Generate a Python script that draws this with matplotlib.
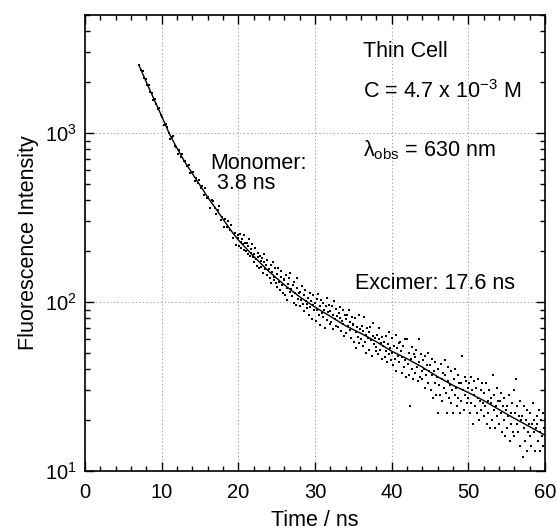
"""Fluorescence decay of the thin cell, log intensity vs time."""
import matplotlib
matplotlib.use("Agg")
import matplotlib.pyplot as plt
from matplotlib.ticker import LogLocator, MultipleLocator

plt.rcParams["font.family"] = ["Liberation Sans", "DejaVu Sans"]
plt.rcParams["mathtext.fontset"] = "custom"
plt.rcParams["mathtext.rm"] = "Liberation Sans"
plt.rcParams["mathtext.it"] = "Liberation Sans:italic"
plt.rcParams["mathtext.bf"] = "Liberation Sans:bold"

# measured decay, early part (coarse channels)
early_time = [
    7.1, 7.3, 7.5, 7.7, 7.9, 8.1, 8.3, 8.5, 8.7, 8.9,
    9.1, 9.3, 9.5, 9.7, 9.9, 10.1, 10.3, 10.5, 10.7, 10.9,
    11.1, 11.3, 11.5, 11.7, 11.9, 12.1, 12.3, 12.5, 12.7, 12.9,
    13.1, 13.3, 13.5, 13.7, 13.9, 14.1, 14.3, 14.5, 14.7, 14.9,
    15.1, 15.3, 15.5, 15.7, 15.9, 16.1, 16.3, 16.5, 16.7, 16.9,
    17.1, 17.3, 17.5, 17.7, 17.9, 18.1, 18.3, 18.5, 18.7, 18.9,
    19.1, 19.3, 19.5, 19.7, 19.9,
]
early_counts = [
    2520, 2350, 2315, 2105, 2075, 1915, 1918, 1760, 1720, 1570,
    1580, 1475, 1380, 1400, 1270, 1235, 1120, 1135, 1090, 1005,
    925, 948, 960, 835, 830, 755, 795, 725, 750, 680,
    680, 636, 646, 580, 586, 590, 520, 539, 504, 528,
    473, 484, 428, 470, 411, 418, 361, 403, 398, 360,
    331, 351, 369, 307, 316, 278, 311, 277, 300, 265,
    286, 240, 255, 218, 247,
]

# measured decay, tail (fine channels)
tail_time = [
    20.0, 20.1, 20.2, 20.3, 20.4, 20.5, 20.6, 20.7, 20.8, 20.9,
    21.0, 21.1, 21.2, 21.3, 21.4, 21.5, 21.6, 21.7, 21.8, 21.9,
    22.0, 22.1, 22.2, 22.3, 22.4, 22.5, 22.6, 22.7, 22.8, 22.9,
    23.0, 23.1, 23.2, 23.3, 23.4, 23.5, 23.6, 23.7, 23.8, 23.9,
    24.0, 24.1, 24.2, 24.3, 24.4, 24.5, 24.6, 24.7, 24.8, 24.9,
    25.0, 25.1, 25.2, 25.3, 25.4, 25.5, 25.6, 25.7, 25.8, 25.9,
    26.0, 26.1, 26.2, 26.3, 26.4, 26.5, 26.6, 26.7, 26.8, 26.9,
    27.0, 27.1, 27.2, 27.3, 27.4, 27.5, 27.6, 27.7, 27.8, 27.9,
    28.0, 28.1, 28.2, 28.3, 28.4, 28.5, 28.6, 28.7, 28.8, 28.9,
    29.0, 29.1, 29.2, 29.3, 29.4, 29.5, 29.6, 29.7, 29.8, 29.9,
    30.0, 30.1, 30.2, 30.3, 30.4, 30.5, 30.6, 30.7, 30.8, 30.9,
    31.0, 31.1, 31.2, 31.3, 31.4, 31.5, 31.6, 31.7, 31.8, 31.9,
    32.0, 32.1, 32.2, 32.3, 32.4, 32.5, 32.6, 32.7, 32.8, 32.9,
    33.0, 33.1, 33.2, 33.3, 33.4, 33.5, 33.6, 33.7, 33.8, 33.9,
    34.0, 34.1, 34.2, 34.3, 34.4, 34.5, 34.6, 34.7, 34.8, 34.9,
    35.0, 35.1, 35.2, 35.3, 35.4, 35.5, 35.6, 35.7, 35.8, 35.9,
    36.0, 36.1, 36.2, 36.3, 36.4, 36.5, 36.6, 36.7, 36.8, 36.9,
    37.0, 37.1, 37.2, 37.3, 37.4, 37.5, 37.6, 37.7, 37.8, 37.9,
    38.0, 38.1, 38.2, 38.3, 38.4, 38.5, 38.6, 38.7, 38.8, 38.9,
    39.0, 39.1, 39.2, 39.3, 39.4, 39.5, 39.6, 39.7, 39.8, 39.9,
    40.0, 40.1, 40.2, 40.3, 40.4, 40.5, 40.6, 40.7, 40.8, 40.9,
    41.0, 41.1, 41.2, 41.3, 41.4, 41.5, 41.6, 41.7, 41.8, 41.9,
    42.0, 42.1, 42.2, 42.3, 42.4, 42.5, 42.6, 42.7, 42.8, 42.9,
    43.0, 43.1, 43.2, 43.3, 43.4, 43.5, 43.6, 43.7, 43.8, 43.9,
    44.0, 44.1, 44.2, 44.3, 44.4, 44.5, 44.6, 44.7, 44.8, 44.9,
    45.0, 45.1, 45.2, 45.3, 45.4, 45.5, 45.6, 45.7, 45.8, 45.9,
    46.0, 46.1, 46.2, 46.3, 46.4, 46.5, 46.6, 46.7, 46.8, 46.9,
    47.0, 47.1, 47.2, 47.3, 47.4, 47.5, 47.6, 47.7, 47.8, 47.9,
    48.0, 48.1, 48.2, 48.3, 48.4, 48.5, 48.6, 48.7, 48.8, 48.9,
    49.0, 49.1, 49.2, 49.3, 49.4, 49.5, 49.6, 49.7, 49.8, 49.9,
    50.0, 50.1, 50.2, 50.3, 50.4, 50.5, 50.6, 50.7, 50.8, 50.9,
    51.0, 51.1, 51.2, 51.3, 51.4, 51.5, 51.6, 51.7, 51.8, 51.9,
    52.0, 52.1, 52.2, 52.3, 52.4, 52.5, 52.6, 52.7, 52.8, 52.9,
    53.0, 53.1, 53.2, 53.3, 53.4, 53.5, 53.6, 53.7, 53.8, 53.9,
    54.0, 54.1, 54.2, 54.3, 54.4, 54.5, 54.6, 54.7, 54.8, 54.9,
    55.0, 55.1, 55.2, 55.3, 55.4, 55.5, 55.6, 55.7, 55.8, 55.9,
    56.0, 56.1, 56.2, 56.3, 56.4, 56.5, 56.6, 56.7, 56.8, 56.9,
    57.0, 57.1, 57.2, 57.3, 57.4, 57.5, 57.6, 57.7, 57.8, 57.9,
    58.0, 58.1, 58.2, 58.3, 58.4, 58.5, 58.6, 58.7, 58.8, 58.9,
    59.0, 59.1, 59.2, 59.3, 59.4, 59.5, 59.6, 59.7, 59.8, 59.9,
]
tail_counts = [
    240, 215, 251, 226, 208, 236, 219, 247, 203, 222,
    199, 224, 191, 213, 236, 186, 205, 194, 219, 183,
    192, 171, 208, 179, 163, 195, 184, 158, 188, 174,
    160, 182, 149, 171, 193, 156, 165, 145, 177, 154,
    157, 138, 166, 129, 150, 172, 141, 135, 158, 130,
    146, 122, 158, 131, 117, 141, 152, 125, 112, 137,
    134, 110, 145, 121, 103, 128, 139, 114, 148, 119,
    108, 125, 99, 131, 113, 96, 120, 138, 104, 112,
    115, 94, 103, 124, 97, 109, 88, 118, 101, 92,
    97, 106, 84, 113, 93, 101, 79, 96, 109, 90,
    98, 77, 104, 89, 111, 84, 73, 95, 102, 86,
    81, 99, 90, 70, 94, 105, 78, 87, 96, 74,
    88, 76, 95, 69, 84, 101, 79, 72, 91, 82,
    71, 86, 80, 93, 67, 77, 89, 74, 63, 83,
    79, 65, 84, 72, 90, 68, 76, 61, 81, 73,
    74, 58, 80, 66, 53, 71, 62, 84, 57, 69,
    60, 72, 55, 67, 81, 58, 64, 50, 70, 61,
    66, 52, 71, 59, 48, 63, 75, 56, 61, 51,
    54, 64, 49, 60, 70, 52, 57, 46, 62, 55,
    58, 47, 63, 51, 44, 56, 66, 49, 53, 45,
    50, 61, 42, 55, 46, 64, 39, 53, 48, 57,
    44, 58, 51, 38, 47, 55, 41, 60, 45, 36,
    60, 43, 50, 37, 24, 46, 54, 40, 35, 49,
    47, 38, 52, 41, 34, 60, 44, 36, 49, 39,
    35, 45, 40, 31, 48, 37, 42, 33, 50, 39,
    42, 30, 37, 46, 27, 39, 33, 44, 28, 36,
    22, 40, 32, 28, 43, 35, 26, 38, 31, 45,
    37, 29, 22, 34, 41, 27, 32, 25, 39, 30,
    22, 35, 28, 40, 31, 24, 37, 27, 33, 22,
    33, 26, 48, 30, 23, 36, 28, 34, 25, 31,
    27, 33, 22, 36, 25, 30, 19, 34, 28, 24,
    31, 22, 27, 35, 20, 26, 30, 23, 33, 25,
    21, 29, 24, 33, 19, 26, 22, 30, 18, 27,
    25, 20, 37, 23, 28, 18, 24, 31, 21, 26,
    19, 26, 22, 29, 17, 24, 20, 27, 16, 23,
    24, 18, 21, 28, 15, 22, 19, 25, 17, 30,
    16, 22, 35, 19, 24, 17, 21, 14, 26, 20,
    21, 12, 18, 24, 15, 20, 13, 23, 17, 19,
    16, 22, 14, 19, 25, 17, 20, 13, 18, 21,
    19, 15, 23, 17, 13, 20, 16, 22, 14, 18,
]

# biexponential fit curve (monomer 3.8 ns, excimer 17.6 ns)
fit_time = [
    7.1, 8, 9, 10, 11, 12, 13, 14, 15, 16, 17, 18, 19, 20, 22, 24, 26,
    28, 30, 32, 34, 36, 38, 40, 42, 44, 46, 48, 50, 52, 54, 56, 58, 60,
]
fit_counts = [
    2480, 2000, 1585, 1259, 989, 813, 676, 575, 490, 417, 359, 309, 266,
    232, 186, 151, 126, 107, 93, 82, 72, 65, 58, 51, 46, 41, 36, 32, 29,
    26, 23, 20.4, 18.2, 16.2,
]

fig = plt.figure(figsize=(5.57, 5.30), dpi=100)
ax = fig.add_axes([0.1526, 0.112, 0.8259, 0.8598])

ax.plot(early_time, early_counts, ls="none", marker="s", ms=1.7, mew=0,
        color="black")
ax.plot(tail_time, tail_counts, ls="none", marker="s", ms=1.7, mew=0,
        color="black")
ax.plot(fit_time, fit_counts, color="black", lw=1.0)

ax.set_yscale("log")
ax.set_xlim(0, 60)
ax.set_ylim(10, 5000)
ax.xaxis.set_major_locator(MultipleLocator(10))
ax.xaxis.set_minor_locator(MultipleLocator(2))
ax.yaxis.set_major_locator(LogLocator(base=10, numticks=10))
ax.yaxis.set_minor_locator(LogLocator(base=10, subs=range(2, 10), numticks=20))
ax.yaxis.set_minor_formatter(plt.NullFormatter())

ax.tick_params(which="both", direction="in", top=True, right=True,
               width=1.0, labelsize=14.5)
ax.tick_params(axis="x", which="major", length=6.5, pad=9)
ax.tick_params(axis="y", which="major", length=6.5, pad=6)
ax.tick_params(which="minor", length=3.5)
for sp in ax.spines.values():
    sp.set_linewidth(1.2)

ax.grid(True, which="major", color="#999999", ls=(0, (1.2, 2.5)), lw=0.7)

ax.set_xlabel("Time / ns", fontsize=15.5, labelpad=6)
ax.set_ylabel("Fluorescence Intensity", fontsize=15.5, labelpad=4)

fs = 15.5
ax.text(36.3, 3020, "Thin Cell", fontsize=fs, va="center")
ax.text(36.3, 1770, r"C = 4.7 x 10$^{-3}$ M", fontsize=fs, va="center")
ax.text(36.3, 789, r"λ$_{\mathrm{obs}}$ = 630 nm", fontsize=fs, va="center")
ax.text(16.3, 661, "Monomer:", fontsize=fs, va="center")
ax.text(17.25, 501, "3.8 ns", fontsize=fs, va="center")
ax.text(35.2, 129, "Excimer: 17.6 ns", fontsize=fs, va="center")

fig.savefig("out.png", dpi=100)
